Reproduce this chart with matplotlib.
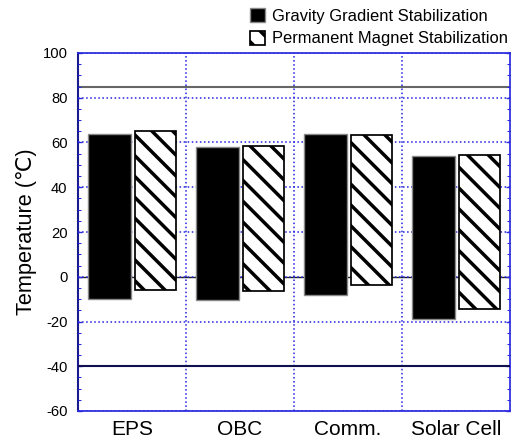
import numpy as np
import matplotlib
matplotlib.use('Agg')
import matplotlib.pyplot as plt
from matplotlib import ticker

plt.rcParams['font.family'] = ['Liberation Sans', 'DejaVu Sans']
plt.rcParams['hatch.linewidth'] = 2.0
plt.rcParams['axes.unicode_minus'] = False

# temperature ranges per component (deg C)
categories = ['EPS', 'OBC', 'Comm.', 'Solar Cell']
gravity_low = [-10, -10.5, -8, -19]
gravity_high = [64, 58, 64, 54]
magnet_low = [-6, -6.5, -3.5, -14.5]
magnet_high = [65, 58.5, 63.5, 54.5]
series_labels = ['Gravity Gradient Stabilization',
                 'Permanent Magnet Stabilization']
upper_limit = 85
lower_limit = -40

DPI = 125
W, H = 515, 441
BLUE = '#2a2ae0'


def main():
    fig = plt.figure(figsize=(W / DPI, H / DPI), dpi=DPI)
    ax = fig.add_axes([78 / W, 1 - 411 / H, 432 / W, 358 / H])

    x = np.arange(len(categories))
    g_low = np.array(gravity_low)
    g_high = np.array(gravity_high)
    m_low = np.array(magnet_low)
    m_high = np.array(magnet_high)

    ax.axhline(0, color='#222222', lw=0.8, zorder=1)
    ax.axhline(upper_limit, color='#666666', lw=1.2, zorder=1)
    ax.axhline(lower_limit, color='#101050', lw=1.2, zorder=4)

    b1 = ax.bar(x - 0.205, g_high - g_low, bottom=g_low, width=0.40,
                color='black', edgecolor='#888888', lw=0.8, zorder=3,
                label=series_labels[0])
    b2 = ax.bar(x + 0.22, m_high - m_low, bottom=m_low, width=0.38,
                color='white', edgecolor='black', hatch='\\\\', lw=1.0,
                zorder=3, label=series_labels[1])

    ax.set_xlim(-0.5, len(categories) - 0.5)
    ax.set_ylim(-60, 100)
    ax.set_xticks(x)
    ax.set_xticklabels(categories, fontsize=12)
    ax.set_xticks(x[:-1] + 0.5, minor=True)
    ax.tick_params(axis='x', which='both', length=0, pad=5)

    ax.yaxis.set_major_locator(ticker.MultipleLocator(20))
    ax.yaxis.set_minor_locator(ticker.MultipleLocator(5))
    ax.tick_params(axis='y', which='both', direction='in', left=True,
                   right=True, color=BLUE, labelsize=8.5, pad=6)
    ax.tick_params(axis='y', which='major', length=2.5)
    ax.tick_params(axis='y', which='minor', length=2.0)

    ax.grid(True, which='major', axis='y', color=BLUE, ls=(0, (1, 1.6)),
            lw=0.9, zorder=2)
    ax.grid(True, which='minor', axis='x', color=BLUE, ls=(0, (1, 1.6)),
            lw=0.9, zorder=2)
    ax.set_axisbelow(False)

    for side in ['top', 'right', 'bottom']:
        ax.spines[side].set_color(BLUE)
        ax.spines[side].set_linewidth(1.0)
    ax.spines['left'].set_color('#1a1a90')
    ax.spines['left'].set_linewidth(1.2)

    ax.set_ylabel('Temperature (\u2103)', fontsize=12.5, labelpad=3)

    fig.legend(handles=[b1, b2], loc='upper left',
               bbox_to_anchor=(250 / W, 1 - 8 / H), frameon=False,
               fontsize=9.5, handlelength=0.9, handleheight=0.9,
               handletextpad=0.45, labelspacing=0.45, borderpad=0,
               borderaxespad=0)

    fig.savefig('out.png', dpi=DPI)
    plt.close(fig)


if __name__ == '__main__':
    main()
